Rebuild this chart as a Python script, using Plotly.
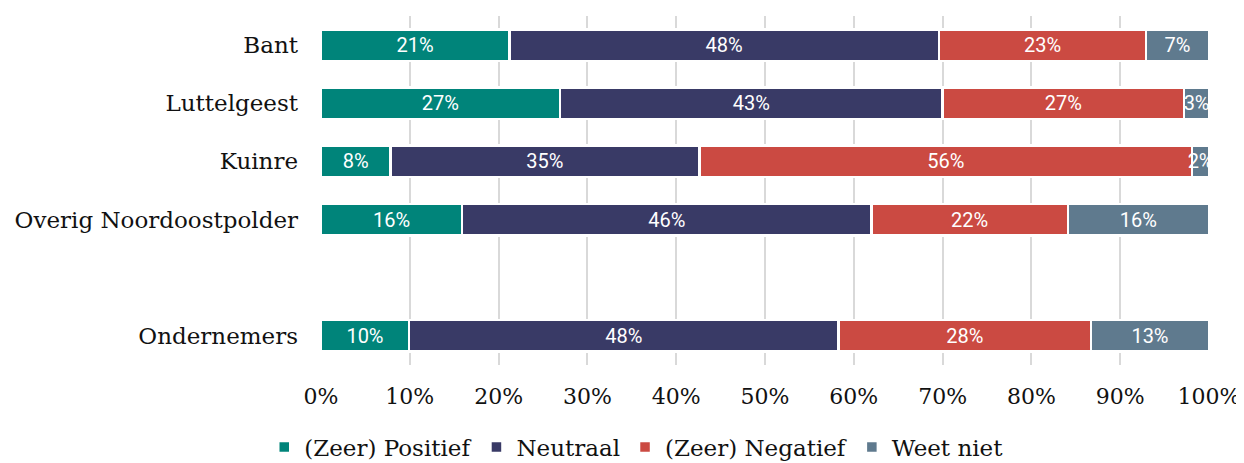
import plotly.graph_objects as go

# rows top to bottom; the empty label makes the gap above "Ondernemers"
categories = ["Bant", "Luttelgeest", "Kuinre", "Overig Noordoostpolder", " ", "Ondernemers"]

series_names = ["(Zeer) Positief", "Neutraal", "(Zeer) Negatief", "Weet niet"]
positief = [21.2, 26.9, 7.8, 15.9, None, 9.9]
neutraal = [48.4, 43.1, 34.8, 46.1, None, 48.4]
negatief = [23.3, 27.2, 55.5, 22.1, None, 28.4]
weet_niet = [7.1, 2.8, 1.9, 15.9, None, 13.3]

tick_vals = [0, 10, 20, 30, 40, 50, 60, 70, 80, 90, 100]
tick_text = [f"{v}%" for v in tick_vals]

colors = ["#00847a", "#393a66", "#cb4a42", "#5f7a8e"]
serif = "DejaVu Serif"

fig = go.Figure()
for name, vals, col in zip(series_names, [positief, neutraal, negatief, weet_niet], colors):
    fig.add_trace(go.Bar(
        y=categories,
        x=vals,
        name=name,
        orientation="h",
        marker=dict(color=col, line=dict(color="white", width=2.5)),
        texttemplate="%{x:.0f}%",
        textposition="inside",
        insidetextanchor="middle",
        textangle=0,
        textfont=dict(family="Roboto", size=20, color="white"),
        cliponaxis=True,
    ))

# page body adds ~8px offset, so the figure is a bit smaller than the window
fig.update_layout(
    barmode="stack",
    bargap=0.46,
    width=1236,
    height=455,
    margin=dict(l=313, r=35, t=8, b=98, autoexpand=False),
    plot_bgcolor="white",
    paper_bgcolor="white",
    font=dict(family=serif, size=22, color="#111111"),
    uniformtext=dict(minsize=20, mode="show"),
    legend=dict(
        orientation="h",
        x=0.355,
        xanchor="center",
        y=-0.235,
        yanchor="middle",
        font=dict(family=serif, size=23, color="#111111"),
        traceorder="normal",
    ),
)
fig.update_xaxes(
    range=[0, 100],
    tickvals=tick_vals,
    ticktext=tick_text,
    tickangle=0,
    showgrid=True,
    gridcolor="#d9d9d9",
    gridwidth=2,
    zeroline=False,
    showline=False,
    ticklabelstandoff=16,
    tickfont=dict(family=serif, size=22),
)
fig.update_yaxes(
    categoryorder="array",
    categoryarray=categories,
    autorange="reversed",
    showgrid=False,
    zeroline=False,
    ticklabelstandoff=22,
    tickfont=dict(family=serif, size=23),
)

fig.write_html("out.html")
